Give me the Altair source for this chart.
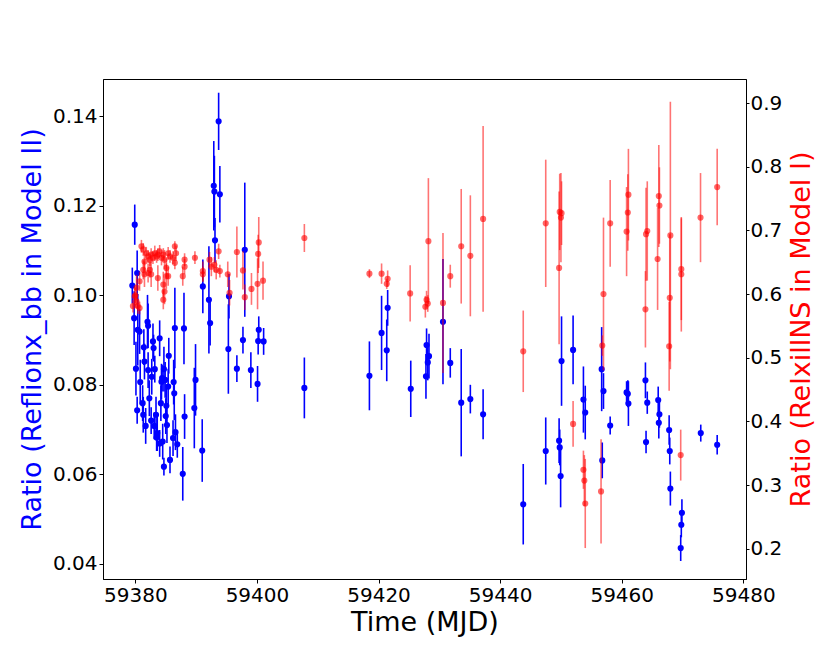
import altair as alt
import pandas as pd

# ---------------- data ----------------
blue_t = [
    59379.5, 59379.9, 59380.3, 59379.8, 59382.0, 59382.1, 59380.4, 59380.7, 59384.0, 59386.5,
    59388.0, 59392.3, 59382.9, 59381.4, 59383.0, 59395.3, 59397.7, 59400.3, 59400.2, 59401.1,
    59381.5, 59380.1, 59382.1, 59383.2, 59384.7, 59385.5, 59382.7, 59384.4, 59384.9, 59386.3,
    59385.4, 59380.8, 59396.7, 59399.0, 59400.1, 59389.9, 59386.4, 59384.3, 59384.2, 59381.2,
    59382.3, 59385.1, 59380.3, 59381.3, 59383.4, 59385.0, 59382.6, 59389.7, 59388.1, 59381.7,
    59383.1, 59385.2, 59383.6, 59386.6, 59383.5, 59384.0, 59384.5, 59386.2, 59386.9, 59385.7,
    59384.7, 59387.8, 59391.0,
    59393.7, 59392.9, 59393.0, 59393.9, 59393.1, 59398.0, 59391.1, 59392.1, 59395.4,
    59407.8, 59418.5, 59420.5, 59421.5, 59421.35, 59425.3, 59427.9, 59428.3, 59428.1, 59427.8,
    59430.6, 59431.8, 59433.6, 59435.1, 59437.2,
    59443.8, 59447.5, 59450.1, 59449.7, 59449.8, 59449.95, 59452.0, 59453.7, 59454.0, 59456.7,
    59457.0, 59456.8, 59458.1, 59460.8, 59461.0, 59461.1, 59463.9, 59464.2, 59464.0, 59466.0,
    59466.2, 59466.1, 59467.8, 59467.9, 59468.0, 59469.9, 59469.8, 59469.7, 59473.0, 59475.7,
]
blue_v = [
    0.1022, 0.1158, 0.1050, 0.0949, 0.0941, 0.0932, 0.0923, 0.0919, 0.0904, 0.0927,
    0.0926, 0.0938, 0.0897, 0.0884, 0.0882, 0.0880, 0.0900, 0.0923, 0.0898, 0.0897,
    0.0852, 0.0836, 0.0833, 0.0835, 0.0835, 0.0865, 0.0818, 0.0815, 0.0811, 0.0806,
    0.0796, 0.0806, 0.0836, 0.0833, 0.0802, 0.0811, 0.0781, 0.0807, 0.0759, 0.0759,
    0.0770, 0.0753, 0.0743, 0.0733, 0.0733, 0.0730, 0.0720, 0.0748, 0.0729, 0.0708,
    0.0708, 0.0710, 0.0692, 0.0694, 0.0682, 0.0669, 0.0673, 0.0681, 0.0667, 0.0632,
    0.0617, 0.0601, 0.0653,
    0.1389, 0.1245, 0.1232, 0.1226, 0.1123, 0.1102, 0.1020, 0.0990, 0.0998,
    0.0793, 0.0820, 0.0916, 0.0972, 0.0877, 0.0791, 0.0889, 0.0864, 0.0850, 0.0819,
    0.0941, 0.0849, 0.0760, 0.0768, 0.0734,
    0.0533, 0.0652, 0.0853, 0.0675, 0.0660, 0.0596, 0.0878, 0.0767, 0.0738, 0.0835,
    0.0786, 0.0631, 0.0709, 0.0783, 0.0780, 0.0758, 0.0810, 0.0760, 0.0672, 0.0766,
    0.0734, 0.0715, 0.0699, 0.0652, 0.0568, 0.0514, 0.0487, 0.0435, 0.0692, 0.0666,
]
blue_e = [
    0.004, 0.0045, 0.005, 0.006, 0.006, 0.005, 0.008, 0.005, 0.004, 0.009,
    0.008, 0.005, 0.004, 0.004, 0.003, 0.010, 0.003, 0.003, 0.003, 0.003,
    0.004, 0.006, 0.004, 0.003, 0.005, 0.004, 0.004, 0.003, 0.004, 0.005,
    0.004, 0.005, 0.003, 0.004, 0.004, 0.008, 0.006, 0.004, 0.004, 0.004,
    0.004, 0.004, 0.003, 0.004, 0.004, 0.004, 0.003, 0.009, 0.005, 0.004,
    0.003, 0.004, 0.004, 0.004, 0.003, 0.003, 0.004, 0.004, 0.003, 0.003,
    0.002, 0.006, 0.007,
    0.0064, 0.010, 0.008, 0.0063, 0.005, 0.015, 0.006, 0.012, 0.005,
    0.0068, 0.0077, 0.0083, 0.004, 0.0069, 0.0063, 0.0037, 0.005, 0.004, 0.005,
    0.014, 0.0033, 0.012, 0.0032, 0.0056,
    0.009, 0.0075, 0.010, 0.005, 0.004, 0.007, 0.0077, 0.0074, 0.006, 0.0094,
    0.004, 0.004, 0.002, 0.0025, 0.003, 0.005, 0.004, 0.0025, 0.0025, 0.003,
    0.003, 0.0035, 0.0033, 0.003, 0.0038, 0.003, 0.0028, 0.0029, 0.0019, 0.0022,
]

red_t = [
    59381.0, 59381.3, 59381.8, 59382.1, 59381.5, 59382.4, 59382.6, 59382.9, 59383.2, 59383.5,
    59383.7, 59384.0, 59384.3, 59384.6, 59384.8, 59385.4, 59385.7, 59386.2, 59386.5, 59386.7,
    59386.5, 59381.3, 59381.5, 59382.1, 59382.6, 59382.4, 59380.7, 59380.2, 59379.9, 59379.6,
    59380.4, 59380.7, 59383.7, 59384.6, 59384.8, 59384.6, 59385.1, 59385.4, 59385.1, 59388.1,
    59388.1, 59387.8, 59389.8, 59391.1, 59391.1, 59392.2, 59392.5, 59393.0, 59393.3, 59393.9,
    59393.7, 59395.2, 59395.5, 59396.7, 59397.7, 59398.0, 59399.1, 59400.1, 59400.2, 59400.3,
    59401.0, 59380.0, 59380.2,
    59407.8, 59418.5, 59420.5, 59421.5, 59421.35, 59425.2, 59428.2, 59427.9, 59428.1, 59427.7,
    59430.6, 59431.8, 59433.6, 59435.1, 59437.2,
    59443.8, 59447.5, 59449.8, 59450.1, 59450.0, 59449.7, 59452.0, 59453.7, 59453.85, 59454.0,
    59456.6, 59456.8, 59457.0, 59458.1, 59461.1, 59461.0, 59460.8, 59464.2, 59464.0, 59463.9,
    59466.1, 59466.2, 59465.9, 59468.0, 59467.9, 59467.8, 59469.8, 59469.8, 59469.7, 59472.96,
    59475.7,
]
red_v = [
    0.675, 0.670, 0.664, 0.659, 0.651, 0.654, 0.662, 0.657, 0.664, 0.659,
    0.662, 0.667, 0.657, 0.662, 0.654, 0.664, 0.659, 0.657, 0.675, 0.664,
    0.649, 0.638, 0.631, 0.633, 0.631, 0.638, 0.620, 0.610, 0.596, 0.581,
    0.581, 0.578, 0.625, 0.615, 0.604, 0.591, 0.628, 0.628, 0.641, 0.654,
    0.643, 0.628, 0.657, 0.636, 0.631, 0.654, 0.643, 0.646, 0.638, 0.636,
    0.667, 0.631, 0.602, 0.666, 0.637, 0.595, 0.608, 0.616, 0.663, 0.681,
    0.621, 0.598, 0.588,
    0.688, 0.632, 0.632, 0.624, 0.616, 0.601, 0.683, 0.591, 0.585, 0.580,
    0.586, 0.628, 0.675, 0.660, 0.718,
    0.510, 0.711, 0.729, 0.727, 0.720, 0.641, 0.396, 0.324, 0.307, 0.271,
    0.290, 0.519, 0.600, 0.711, 0.756, 0.728, 0.698, 0.699, 0.694, 0.576,
    0.754, 0.739, 0.655, 0.692, 0.594, 0.518, 0.639, 0.631, 0.347, 0.720,
    0.768,
]
red_e = [
    0.010, 0.010, 0.010, 0.010, 0.015, 0.010, 0.010, 0.010, 0.012, 0.010,
    0.010, 0.010, 0.012, 0.010, 0.015, 0.010, 0.010, 0.010, 0.008, 0.012,
    0.010, 0.015, 0.020, 0.015, 0.020, 0.012, 0.015, 0.020, 0.015, 0.010,
    0.012, 0.010, 0.020, 0.020, 0.020, 0.015, 0.020, 0.015, 0.015, 0.010,
    0.012, 0.015, 0.010, 0.015, 0.012, 0.012, 0.015, 0.012, 0.015, 0.010,
    0.012, 0.020, 0.020, 0.040, 0.030, 0.020, 0.025, 0.040, 0.030, 0.040,
    0.030, 0.012, 0.010,
    0.022, 0.007, 0.016, 0.013, 0.008, 0.044, 0.099, 0.014, 0.013, 0.017,
    0.110, 0.018, 0.090, 0.095, 0.146,
    0.064, 0.100, 0.060, 0.050, 0.070, 0.120, 0.036, 0.030, 0.040, 0.070,
    0.082, 0.016, 0.120, 0.068, 0.072, 0.060, 0.070, 0.078, 0.073, 0.060,
    0.080, 0.060, 0.080, 0.210, 0.100, 0.070, 0.080, 0.090, 0.040, 0.070,
    0.060,
]

x_ticks = [59380, 59400, 59420, 59440, 59460, 59480]
left_ticks = [0.04, 0.06, 0.08, 0.10, 0.12, 0.14]
right_ticks = [0.2, 0.3, 0.4, 0.5, 0.6, 0.7, 0.8, 0.9]

# ---------------- tables ----------------
n_b = min(len(blue_t), len(blue_v), len(blue_e))
blue = pd.DataFrame({"t": blue_t[:n_b], "v": blue_v[:n_b], "e": blue_e[:n_b]})
blue["lo"] = blue["v"] - blue["e"]
blue["hi"] = blue["v"] + blue["e"]

n_r = min(len(red_t), len(red_v), len(red_e))
red = pd.DataFrame({"t": red_t[:n_r], "v": red_v[:n_r], "e": red_e[:n_r]})
red["lo"] = red["v"] - red["e"]
red["hi"] = red["v"] + red["e"]

BLUE = "#0000ff"
RED = "#ff0000"
FONT = "DejaVu Sans"
TITLE_SIZE = 27

x_scale = alt.Scale(domain=[59374.68, 59480.44], nice=False, zero=False)
x_axis = alt.Axis(values=x_ticks, format="d", title="Time (MJD)", tickSize=4,
                  labelPadding=2, titlePadding=4, labelFlush=False, labelOverlap=False)

yb_scale = alt.Scale(domain=[0.03658, 0.14837], nice=False, zero=False)
yb_axis = alt.Axis(values=left_ticks, format=".2f", title="Ratio (Reflionx_bb in Model II)",
                   titleColor=BLUE, orient="left", tickSize=4, labelPadding=2, titlePadding=6,
                   labelFlush=False, labelOverlap=False)

yr_scale = alt.Scale(domain=[0.1524, 0.9377], nice=False, zero=False)
yr_axis = alt.Axis(values=right_ticks, format=".1f", title="Ratio (RelxillNS in Model I)",
                   titleColor=RED, orient="right", tickSize=3, labelPadding=1, titlePadding=7,
                   titleAngle=270, titleBaseline="top",
                   labelFlush=False, labelOverlap=False)

X = alt.X("t:Q", scale=x_scale, axis=x_axis)

blue_err = alt.Chart(blue).mark_rule(color=BLUE, strokeWidth=1.6).encode(
    x=X, y=alt.Y("lo:Q", scale=yb_scale, axis=yb_axis), y2="hi:Q")
blue_pts = alt.Chart(blue).mark_circle(color=BLUE, size=38, opacity=1).encode(
    x=X, y=alt.Y("v:Q", scale=yb_scale, axis=yb_axis))
blue_layer = alt.layer(blue_err, blue_pts)

red_err = alt.Chart(red).mark_rule(color=RED, strokeWidth=1.6, opacity=0.55).encode(
    x=X, y=alt.Y("lo:Q", scale=yr_scale, axis=yr_axis), y2="hi:Q")
red_pts = alt.Chart(red).mark_circle(color=RED, size=38, opacity=0.6).encode(
    x=X, y=alt.Y("v:Q", scale=yr_scale, axis=yr_axis))
red_layer = alt.layer(red_err, red_pts)

chart = (
    alt.layer(blue_layer, red_layer)
    .resolve_scale(y="independent")
    .properties(width=643, height=500,
                autosize=alt.AutoSizeParams(type="none"),
                padding={"left": 95, "top": 71, "right": 75, "bottom": 77})
    .configure_view(stroke="black", strokeWidth=1)
    .configure_axis(labelFont=FONT, titleFont=FONT, labelFontSize=20, titleFontSize=TITLE_SIZE,
                    titleFontWeight="normal", labelColor="black", tickColor="black",
                    domainColor="black", domainWidth=1, tickWidth=1, grid=False)
)

chart.save("out.html", embed_options={"renderer": "svg", "actions": False})
